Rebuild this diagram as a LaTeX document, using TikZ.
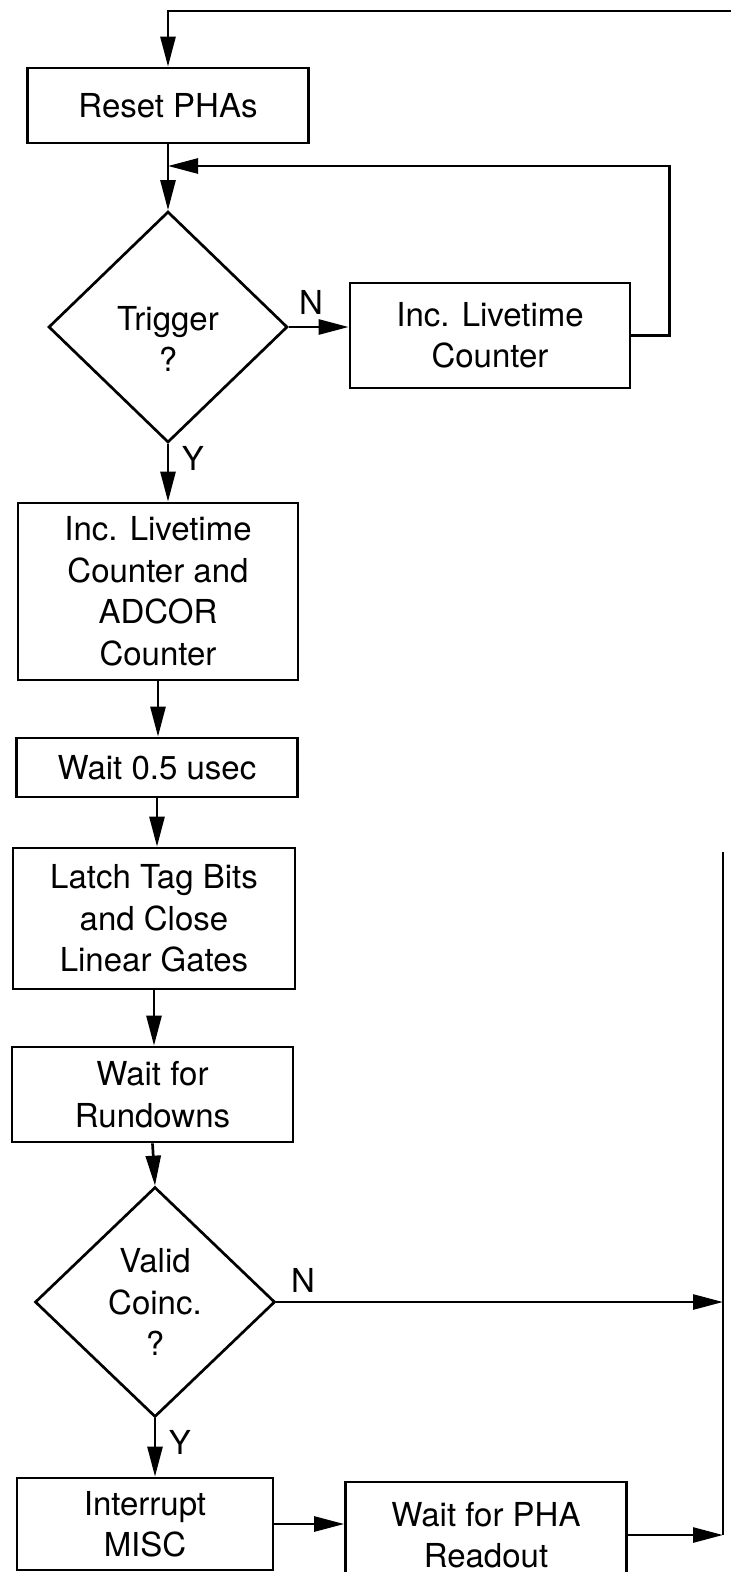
\documentclass[tikz,border=0pt]{standalone}
\usepackage{fontspec}
\setmainfont{TeX Gyre Heros}
\usetikzlibrary{shapes.geometric,arrows.meta}
\begin{document}
\begin{tikzpicture}[x=1pt,y=-1pt, line width=2.7pt,
  every node/.style={font=\fontsize{33}{41.5}\selectfont},
  box/.style={draw, rectangle, align=center, inner sep=0pt},
  dec/.style={draw, diamond, inner sep=0pt},
  txt/.style={align=center, inner sep=0pt},
  flow/.style={-{Triangle[length=30pt,width=15pt]}},
  lbl/.style={inner sep=0pt}]
\useasboundingbox (0,0) rectangle (731,1572);
\clip (0,0) rectangle (731,1572);
\node[box, minimum width=281pt, minimum height=75pt] (reset) at (168,105.5) {Reset PHAs};
\node[dec, minimum width=239pt, minimum height=231pt] (trig) at (168,327) {};
\node[txt] (trigt) at (168,339) {Trigger\\?};
\node[box, minimum width=280pt, minimum height=105pt] (inc) at (490,335.5) {Inc. Livetime\\Counter};
\node[box, minimum width=280pt, minimum height=177pt] (box2) at (158,591.5) {Inc. Livetime\\Counter and\\ADCOR\\Counter};
\node[box, minimum width=281pt, minimum height=59pt] (wait) at (157,767.5) {Wait 0.5 usec};
\node[box, minimum width=282pt, minimum height=141pt] (latch) at (154,918.5) {Latch Tag Bits\\and Close\\Linear Gates};
\node[box, minimum width=281pt, minimum height=95pt] (rund) at (152.5,1094.5) {Wait for\\Rundowns};
\node[dec, minimum width=240pt, minimum height=230pt] (valid) at (155,1302) {};
\node[txt] (validt) at (155,1302) {Valid\\Coinc.\\?};
\node[box, minimum width=256pt, minimum height=92pt] (intr) at (145,1524) {Interrupt\\MISC};
\node[box, minimum width=281pt, minimum height=106pt] (pha) at (486,1535) {Wait for PHA\\Readout};
\coordinate (tr) at (731,11);
\coordinate (rt) at (723,852);
\coordinate (j1) at (168,166);
\draw[flow] (tr) -- (tr -| reset.north) -- (reset.north);
\draw[flow] (reset.south) -- (trig.north);
\draw[flow] (inc.east) -- ++(38,0) |- (j1);
\draw[flow] (trig.east) -- (trig.east -| inc.west);
\draw[flow] (trig.south) -- (trig.south |- box2.north);
\draw[flow] (box2.south) -- (box2.south |- wait.north);
\draw[flow] (wait.south) -- (wait.south |- latch.north);
\draw[flow] (latch.south) -- (latch.south |- rund.north);
\draw[flow] (rund.south) -- (valid.north);
\draw[flow] (valid.south) -- (valid.south |- intr.north);
\draw[flow] (valid.east) -- (valid.east -| rt);
\draw[flow] (intr.east) -- (intr.east -| pha.west);
\draw[flow] (pha.east) -- (pha.east -| rt);
\draw (rt) -- (rt |- pha.east);
\node[lbl] (n1) at (311,302) {N};
\node[lbl] (y1) at (193,458) {Y};
\node[lbl] (n2) at (303,1280) {N};
\node[lbl] (y2) at (180,1442) {Y};
\end{tikzpicture}
\end{document}
